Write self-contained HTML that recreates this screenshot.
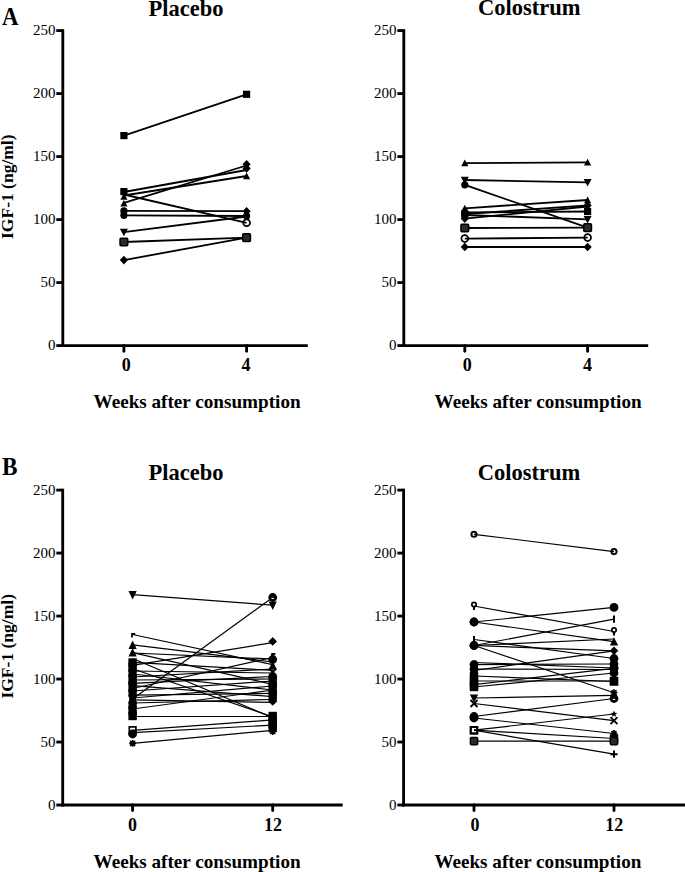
<!DOCTYPE html>
<html><head><meta charset="utf-8"><style>
html,body{margin:0;padding:0;background:#fff;}
body{width:685px;height:872px;overflow:hidden;}
svg{display:block;}
text{font-family:"Liberation Serif", serif;fill:#000;}
.yl{font-size:15px;}
.xl{font-size:18px;font-weight:bold;}
.title{font-size:22.5px;font-weight:bold;}
.wk{font-size:19.15px;font-weight:bold;}
.yt{font-size:17.5px;font-weight:bold;}
.big{font-size:24px;font-weight:bold;}
</style></head><body>
<svg width="685" height="872" viewBox="0 0 685 872">
<rect width="685" height="872" fill="#fff"/>

<text x="2" y="24.6" class="big" transform="translate(2,24.6) scale(0.95,1.07) translate(-2,-24.6)">A</text>
<text x="2" y="474.8" class="big" transform="translate(2,474.8) scale(0.97,1.07) translate(-2,-474.8)">B</text>
<text x="186" y="15.6" text-anchor="middle" class="title">Placebo</text>
<text x="529.3" y="15.4" text-anchor="middle" class="title">Colostrum</text>
<text x="186.1" y="480.2" text-anchor="middle" class="title">Placebo</text>
<text x="529.1" y="480.3" text-anchor="middle" class="title">Colostrum</text>
<text x="93.6" y="408.3" class="wk">Weeks after consumption</text>
<text x="434.6" y="408.4" class="wk">Weeks after consumption</text>
<text x="93.6" y="867.7" class="wk">Weeks after consumption</text>
<text x="434.4" y="867.7" class="wk">Weeks after consumption</text>
<text transform="translate(13.4,186.7) rotate(-90)" text-anchor="middle" class="yt">IGF-1 (ng/ml)</text>
<text transform="translate(13.4,646.3) rotate(-90)" text-anchor="middle" class="yt">IGF-1 (ng/ml)</text>

<path d="M62.80,29.18 L62.80,347.03" stroke="#000" stroke-width="2.85" fill="none"/>
<path d="M56.30,345.60 L62.80,345.60" stroke="#000" stroke-width="2.85"/>
<text x="55.50" y="350.20" text-anchor="end" class="yl">0</text>
<path d="M56.30,282.60 L62.80,282.60" stroke="#000" stroke-width="2.85"/>
<text x="55.50" y="287.20" text-anchor="end" class="yl">50</text>
<path d="M56.30,219.60 L62.80,219.60" stroke="#000" stroke-width="2.85"/>
<text x="55.50" y="224.20" text-anchor="end" class="yl">100</text>
<path d="M56.30,156.60 L62.80,156.60" stroke="#000" stroke-width="2.85"/>
<text x="55.50" y="161.20" text-anchor="end" class="yl">150</text>
<path d="M56.30,93.60 L62.80,93.60" stroke="#000" stroke-width="2.85"/>
<text x="55.50" y="98.20" text-anchor="end" class="yl">200</text>
<path d="M56.30,30.60 L62.80,30.60" stroke="#000" stroke-width="2.85"/>
<text x="55.50" y="35.20" text-anchor="end" class="yl">250</text>
<path d="M61.38,345.60 L307.80,345.60" stroke="#000" stroke-width="2.85"/>
<path d="M123.90,345.60 L123.90,351.20" stroke="#000" stroke-width="2.85" stroke-linecap="round"/>
<text x="126.30" y="371.00" text-anchor="middle" class="xl">0</text>
<path d="M246.60,345.60 L246.60,351.20" stroke="#000" stroke-width="2.85" stroke-linecap="round"/>
<text x="246.10" y="371.00" text-anchor="middle" class="xl">4</text>
<path d="M123.90,135.60 L246.60,94.30" stroke="#000" stroke-width="1.8" fill="none"/>
<path d="M123.90,192.00 L246.60,170.00" stroke="#000" stroke-width="1.8" fill="none"/>
<path d="M123.90,195.50 L246.60,176.00" stroke="#000" stroke-width="1.8" fill="none"/>
<path d="M123.90,202.80 L246.60,165.50" stroke="#000" stroke-width="1.8" fill="none"/>
<path d="M123.90,194.50 L246.60,222.80" stroke="#000" stroke-width="1.8" fill="none"/>
<path d="M123.90,210.90 L246.60,211.20" stroke="#000" stroke-width="1.8" fill="none"/>
<path d="M123.90,215.30 L246.60,216.00" stroke="#000" stroke-width="1.8" fill="none"/>
<path d="M123.90,232.10 L246.60,216.50" stroke="#000" stroke-width="1.8" fill="none"/>
<path d="M123.90,242.00 L246.60,237.70" stroke="#000" stroke-width="1.8" fill="none"/>
<path d="M123.90,260.10 L246.60,237.70" stroke="#000" stroke-width="1.8" fill="none"/>
<rect x="120.30" y="132.00" width="7.20" height="7.20" fill="#000"/>
<rect x="243.00" y="90.70" width="7.20" height="7.20" fill="#000"/>



<path d="M246.60,172.50 L250.20,179.20 L243.00,179.20 Z" fill="#000"/>



<circle cx="246.60" cy="222.80" r="3.40" fill="none" stroke="#000" stroke-width="1.75"/>
<circle cx="123.90" cy="210.90" r="3.60" fill="#000"/>
<path d="M246.60,206.90 L250.70,211.20 L246.60,215.50 L242.50,211.20 Z" fill="#000"/>
<circle cx="123.90" cy="215.30" r="3.60" fill="#000"/>
<circle cx="246.60" cy="216.00" r="3.60" fill="#000"/>
<path d="M123.90,236.30 L127.90,228.80 L119.90,228.80 Z" fill="#000"/>

<rect x="120.05" y="238.15" width="7.70" height="7.70" fill="#2a2a2a" stroke="#000" stroke-width="1.50" rx="1"/>
<rect x="242.75" y="233.85" width="7.70" height="7.70" fill="#2a2a2a" stroke="#000" stroke-width="1.50" rx="1"/>
<path d="M123.90,255.80 L128.00,260.10 L123.90,264.40 L119.80,260.10 Z" fill="#000"/>

<path d="M123.90,193.10 L127.50,199.80 L120.30,199.80 Z" fill="#000"/>
<path d="M123.90,199.90 L127.50,206.60 L120.30,206.60 Z" fill="#000"/>
<rect x="120.30" y="188.00" width="7.20" height="7.20" fill="#000"/>
<path d="M246.60,160.00 L250.70,164.30 L246.60,168.60 L242.50,164.30 Z" fill="#000"/>
<path d="M246.60,164.10 L250.70,168.40 L246.60,172.70 L242.50,168.40 Z" fill="#000"/>
<path d="M403.80,29.18 L403.80,347.03" stroke="#000" stroke-width="2.85" fill="none"/>
<path d="M397.40,345.60 L403.80,345.60" stroke="#000" stroke-width="2.85"/>
<text x="396.40" y="350.20" text-anchor="end" class="yl">0</text>
<path d="M397.40,282.60 L403.80,282.60" stroke="#000" stroke-width="2.85"/>
<text x="396.40" y="287.20" text-anchor="end" class="yl">50</text>
<path d="M397.40,219.60 L403.80,219.60" stroke="#000" stroke-width="2.85"/>
<text x="396.40" y="224.20" text-anchor="end" class="yl">100</text>
<path d="M397.40,156.60 L403.80,156.60" stroke="#000" stroke-width="2.85"/>
<text x="396.40" y="161.20" text-anchor="end" class="yl">150</text>
<path d="M397.40,93.60 L403.80,93.60" stroke="#000" stroke-width="2.85"/>
<text x="396.40" y="98.20" text-anchor="end" class="yl">200</text>
<path d="M397.40,30.60 L403.80,30.60" stroke="#000" stroke-width="2.85"/>
<text x="396.40" y="35.20" text-anchor="end" class="yl">250</text>
<path d="M402.38,345.60 L648.20,345.60" stroke="#000" stroke-width="2.85"/>
<path d="M464.80,345.60 L464.80,351.20" stroke="#000" stroke-width="2.85" stroke-linecap="round"/>
<text x="467.30" y="371.00" text-anchor="middle" class="xl">0</text>
<path d="M587.60,345.60 L587.60,351.20" stroke="#000" stroke-width="2.85" stroke-linecap="round"/>
<text x="587.60" y="371.00" text-anchor="middle" class="xl">4</text>
<path d="M464.80,163.10 L587.60,162.30" stroke="#000" stroke-width="1.8" fill="none"/>
<path d="M464.80,180.00 L587.60,182.40" stroke="#000" stroke-width="1.8" fill="none"/>
<path d="M464.80,184.80 L587.60,227.70" stroke="#000" stroke-width="1.8" fill="none"/>
<path d="M464.80,212.50 L587.60,211.50" stroke="#000" stroke-width="1.8" fill="none"/>
<path d="M464.80,214.00 L587.60,205.40" stroke="#000" stroke-width="1.8" fill="none"/>
<path d="M464.80,218.60 L587.60,206.50" stroke="#000" stroke-width="1.8" fill="none"/>
<path d="M464.80,215.00 L587.60,219.30" stroke="#000" stroke-width="1.8" fill="none"/>
<path d="M464.80,208.30 L587.60,200.00" stroke="#000" stroke-width="1.8" fill="none"/>
<path d="M464.80,228.00 L587.60,227.70" stroke="#000" stroke-width="1.8" fill="none"/>
<path d="M464.80,238.60 L587.60,237.60" stroke="#000" stroke-width="1.8" fill="none"/>
<path d="M464.80,247.00 L587.60,247.00" stroke="#000" stroke-width="1.8" fill="none"/>
<path d="M464.80,159.60 L468.40,166.30 L461.20,166.30 Z" fill="#000"/>
<path d="M587.60,158.80 L591.20,165.50 L584.00,165.50 Z" fill="#000"/>
<path d="M464.80,184.20 L468.80,176.70 L460.80,176.70 Z" fill="#000"/>
<path d="M587.60,186.60 L591.60,179.10 L583.60,179.10 Z" fill="#000"/>
<circle cx="464.80" cy="184.80" r="3.60" fill="#000"/>

<circle cx="464.80" cy="212.50" r="3.60" fill="#000"/>
<rect x="584.00" y="207.90" width="7.20" height="7.20" fill="#000"/>
<rect x="461.20" y="210.40" width="7.20" height="7.20" fill="#000"/>
<path d="M587.60,201.10 L591.70,205.40 L587.60,209.70 L583.50,205.40 Z" fill="#000"/>
<path d="M464.80,214.30 L468.90,218.60 L464.80,222.90 L460.70,218.60 Z" fill="#000"/>

<circle cx="464.80" cy="215.00" r="3.60" fill="#000"/>
<path d="M587.60,223.50 L591.60,216.00 L583.60,216.00 Z" fill="#000"/>
<path d="M464.80,204.80 L468.40,211.50 L461.20,211.50 Z" fill="#000"/>
<path d="M587.60,196.50 L591.20,203.20 L584.00,203.20 Z" fill="#000"/>
<rect x="460.95" y="224.15" width="7.70" height="7.70" fill="#2a2a2a" stroke="#000" stroke-width="1.50" rx="1"/>
<rect x="583.75" y="223.85" width="7.70" height="7.70" fill="#2a2a2a" stroke="#000" stroke-width="1.50" rx="1"/>
<circle cx="464.80" cy="238.60" r="3.40" fill="none" stroke="#000" stroke-width="1.75"/>
<circle cx="587.60" cy="237.60" r="3.40" fill="none" stroke="#000" stroke-width="1.75"/>
<path d="M464.80,242.70 L468.90,247.00 L464.80,251.30 L460.70,247.00 Z" fill="#000"/>
<path d="M587.60,242.70 L591.70,247.00 L587.60,251.30 L583.50,247.00 Z" fill="#000"/>
<path d="M62.70,488.68 L62.70,806.42" stroke="#000" stroke-width="2.85" fill="none"/>
<path d="M56.30,805.00 L62.70,805.00" stroke="#000" stroke-width="2.85"/>
<text x="55.50" y="809.60" text-anchor="end" class="yl">0</text>
<path d="M56.30,742.02 L62.70,742.02" stroke="#000" stroke-width="2.85"/>
<text x="55.50" y="746.62" text-anchor="end" class="yl">50</text>
<path d="M56.30,679.04 L62.70,679.04" stroke="#000" stroke-width="2.85"/>
<text x="55.50" y="683.64" text-anchor="end" class="yl">100</text>
<path d="M56.30,616.06 L62.70,616.06" stroke="#000" stroke-width="2.85"/>
<text x="55.50" y="620.66" text-anchor="end" class="yl">150</text>
<path d="M56.30,553.08 L62.70,553.08" stroke="#000" stroke-width="2.85"/>
<text x="55.50" y="557.68" text-anchor="end" class="yl">200</text>
<path d="M56.30,490.10 L62.70,490.10" stroke="#000" stroke-width="2.85"/>
<text x="55.50" y="494.70" text-anchor="end" class="yl">250</text>
<path d="M61.28,805.00 L342.70,805.00" stroke="#000" stroke-width="2.85"/>
<path d="M132.60,805.00 L132.60,810.60" stroke="#000" stroke-width="2.85" stroke-linecap="round"/>
<text x="132.60" y="830.60" text-anchor="middle" class="xl">0</text>
<path d="M272.70,805.00 L272.70,810.60" stroke="#000" stroke-width="2.85" stroke-linecap="round"/>
<text x="272.90" y="830.60" text-anchor="middle" class="xl">12</text>
<path d="M132.60,594.60 L272.70,605.20" stroke="#000" stroke-width="1.2" fill="none"/>
<path d="M132.60,699.00 L272.70,597.50" stroke="#000" stroke-width="1.2" fill="none"/>
<path d="M132.60,634.50 L272.70,664.60" stroke="#000" stroke-width="1.2" fill="none"/>
<path d="M132.60,644.90 L272.70,662.00" stroke="#000" stroke-width="1.2" fill="none"/>
<path d="M132.60,653.00 L272.70,659.00" stroke="#000" stroke-width="1.2" fill="none"/>
<path d="M132.60,652.60 L272.70,684.30" stroke="#000" stroke-width="1.2" fill="none"/>
<path d="M132.60,665.30 L272.70,642.60" stroke="#000" stroke-width="1.2" fill="none"/>
<path d="M132.60,658.50 L272.70,717.70" stroke="#000" stroke-width="1.2" fill="none"/>
<path d="M132.60,668.70 L272.70,716.90" stroke="#000" stroke-width="1.2" fill="none"/>
<path d="M132.60,662.40 L272.70,670.30" stroke="#000" stroke-width="1.2" fill="none"/>
<path d="M132.60,688.50 L272.70,657.50" stroke="#000" stroke-width="1.2" fill="none"/>
<path d="M132.60,709.00 L272.70,690.00" stroke="#000" stroke-width="1.2" fill="none"/>
<path d="M132.60,716.50 L272.70,716.50" stroke="#000" stroke-width="1.2" fill="none"/>
<path d="M132.60,730.40 L272.70,719.90" stroke="#000" stroke-width="1.2" fill="none"/>
<path d="M132.60,732.60 L272.70,725.10" stroke="#000" stroke-width="1.2" fill="none"/>
<path d="M132.60,743.40 L272.70,730.40" stroke="#000" stroke-width="1.2" fill="none"/>
<path d="M132.60,674.00 L272.70,690.00" stroke="#000" stroke-width="1.2" fill="none"/>
<path d="M132.60,677.00 L272.70,669.00" stroke="#000" stroke-width="1.2" fill="none"/>
<path d="M132.60,680.00 L272.70,679.00" stroke="#000" stroke-width="1.2" fill="none"/>
<path d="M132.60,683.40 L272.70,676.50" stroke="#000" stroke-width="1.2" fill="none"/>
<path d="M132.60,685.70 L272.70,696.60" stroke="#000" stroke-width="1.2" fill="none"/>
<path d="M132.60,691.00 L272.70,681.00" stroke="#000" stroke-width="1.2" fill="none"/>
<path d="M132.60,695.10 L272.70,693.40" stroke="#000" stroke-width="1.2" fill="none"/>
<path d="M132.60,698.00 L272.70,686.00" stroke="#000" stroke-width="1.2" fill="none"/>
<path d="M132.60,699.80 L272.70,702.40" stroke="#000" stroke-width="1.2" fill="none"/>
<path d="M132.60,671.00 L272.70,673.00" stroke="#000" stroke-width="1.2" fill="none"/>
<path d="M132.60,703.00 L272.70,699.50" stroke="#000" stroke-width="1.2" fill="none"/>
<path d="M132.60,599.40 L136.70,591.00 L128.50,591.00 Z" fill="#000"/>
<path d="M132.00,637.40 L132.00,634.00 L135.20,634.00" stroke="#000" stroke-width="1.8" fill="none"/>
<path d="M132.60,640.60 L136.70,649.00 L128.50,649.00 Z" fill="#000"/>
<path d="M132.60,648.10 L136.70,656.50 L128.50,656.50 Z" fill="#000"/>
<rect x="128.40" y="658.30" width="8.40" height="8.40" fill="#000"/>
<rect x="128.40" y="662.80" width="8.40" height="8.40" fill="#000"/>
<circle cx="132.60" cy="671.00" r="4.40" fill="#000"/>
<circle cx="132.60" cy="675.00" r="4.40" fill="#000"/>
<rect x="128.40" y="674.80" width="8.40" height="8.40" fill="#000"/>
<circle cx="132.60" cy="683.00" r="4.40" fill="#000"/>
<rect x="128.40" y="682.80" width="8.40" height="8.40" fill="#000"/>
<circle cx="132.60" cy="691.00" r="4.40" fill="#000"/>
<circle cx="132.60" cy="695.00" r="4.40" fill="#000"/>
<circle cx="132.60" cy="699.00" r="2.60" fill="none" stroke="#000" stroke-width="1.90"/>
<circle cx="132.60" cy="703.00" r="4.40" fill="#000"/>
<circle cx="132.60" cy="707.00" r="4.40" fill="#000"/>
<rect x="128.40" y="706.80" width="8.40" height="8.40" fill="#000"/>
<rect x="128.40" y="711.80" width="8.40" height="8.40" fill="#000"/>
<rect x="129.30" y="726.90" width="6.60" height="6.60" fill="none" stroke="#000" stroke-width="1.70"/>
<circle cx="132.60" cy="734.00" r="4.40" fill="#000"/>
<path d="M129.20,743.40 L136.00,743.40 M132.60,740.00 L132.60,746.80 M130.15,740.95 L135.05,745.85 M135.05,740.95 L130.15,745.85" stroke="#000" stroke-width="1.70"/>
<circle cx="272.70" cy="597.50" r="4.40" fill="#000"/><ellipse cx="272.70" cy="598.40" rx="1.3" ry="0.7" fill="#fff"/>
<path d="M272.70,610.00 L276.80,601.60 L268.60,601.60 Z" fill="#000"/>
<path d="M272.70,637.10 L277.00,641.40 L272.70,645.70 L268.40,641.40 Z" fill="#000"/>
<path d="M272.10,657.40 L272.10,654.00 L275.30,654.00" stroke="#000" stroke-width="1.8" fill="none"/>
<circle cx="272.70" cy="659.50" r="4.40" fill="#000"/>
<path d="M272.70,661.10 L276.80,669.50 L268.60,669.50 Z" fill="#000"/>
<path d="M269.20,668.50 L276.20,675.50 M276.20,668.50 L269.20,675.50" stroke="#000" stroke-width="1.90"/>
<circle cx="272.70" cy="677.00" r="4.40" fill="#000"/>
<rect x="268.50" y="676.80" width="8.40" height="8.40" fill="#000"/>
<circle cx="272.70" cy="685.00" r="4.40" fill="#000"/>
<rect x="268.50" y="684.80" width="8.40" height="8.40" fill="#000"/>
<circle cx="272.70" cy="693.00" r="4.40" fill="#000"/>
<rect x="268.50" y="692.80" width="8.40" height="8.40" fill="#000"/>
<path d="M272.70,697.20 L277.00,701.50 L272.70,705.80 L268.40,701.50 Z" fill="#000"/>
<rect x="268.50" y="711.80" width="8.40" height="8.40" fill="#000"/>
<rect x="268.50" y="715.80" width="8.40" height="8.40" fill="#000"/>
<rect x="268.50" y="719.80" width="8.40" height="8.40" fill="#000"/>
<rect x="268.50" y="723.80" width="8.40" height="8.40" fill="#000"/>
<path d="M269.30,731.50 L276.10,731.50 M272.70,728.10 L272.70,734.90 M270.25,729.05 L275.15,733.95 M275.15,729.05 L270.25,733.95" stroke="#000" stroke-width="1.70"/>
<path d="M403.60,488.68 L403.60,806.42" stroke="#000" stroke-width="2.85" fill="none"/>
<path d="M397.40,805.00 L403.60,805.00" stroke="#000" stroke-width="2.85"/>
<text x="396.40" y="809.60" text-anchor="end" class="yl">0</text>
<path d="M397.40,742.02 L403.60,742.02" stroke="#000" stroke-width="2.85"/>
<text x="396.40" y="746.62" text-anchor="end" class="yl">50</text>
<path d="M397.40,679.04 L403.60,679.04" stroke="#000" stroke-width="2.85"/>
<text x="396.40" y="683.64" text-anchor="end" class="yl">100</text>
<path d="M397.40,616.06 L403.60,616.06" stroke="#000" stroke-width="2.85"/>
<text x="396.40" y="620.66" text-anchor="end" class="yl">150</text>
<path d="M397.40,553.08 L403.60,553.08" stroke="#000" stroke-width="2.85"/>
<text x="396.40" y="557.68" text-anchor="end" class="yl">200</text>
<path d="M397.40,490.10 L403.60,490.10" stroke="#000" stroke-width="2.85"/>
<text x="396.40" y="494.70" text-anchor="end" class="yl">250</text>
<path d="M402.18,805.00 L686.00,805.00" stroke="#000" stroke-width="2.85"/>
<path d="M474.00,805.00 L474.00,810.60" stroke="#000" stroke-width="2.85" stroke-linecap="round"/>
<text x="475.00" y="830.60" text-anchor="middle" class="xl">0</text>
<path d="M614.00,805.00 L614.00,810.60" stroke="#000" stroke-width="2.85" stroke-linecap="round"/>
<text x="614.30" y="830.60" text-anchor="middle" class="xl">12</text>
<path d="M474.00,534.30 L614.00,551.60" stroke="#000" stroke-width="1.2" fill="none"/>
<path d="M474.00,606.00 L614.00,631.50" stroke="#000" stroke-width="1.2" fill="none"/>
<path d="M474.00,622.00 L614.00,607.40" stroke="#000" stroke-width="1.2" fill="none"/>
<path d="M474.00,622.00 L614.00,641.60" stroke="#000" stroke-width="1.2" fill="none"/>
<path d="M474.00,639.50 L614.00,658.50" stroke="#000" stroke-width="1.2" fill="none"/>
<path d="M474.00,645.50 L614.00,619.20" stroke="#000" stroke-width="1.2" fill="none"/>
<path d="M474.00,645.50 L614.00,639.00" stroke="#000" stroke-width="1.2" fill="none"/>
<path d="M474.00,645.50 L614.00,650.80" stroke="#000" stroke-width="1.2" fill="none"/>
<path d="M474.00,645.50 L614.00,692.70" stroke="#000" stroke-width="1.2" fill="none"/>
<path d="M474.00,662.50 L614.00,668.00" stroke="#000" stroke-width="1.2" fill="none"/>
<path d="M474.00,664.60 L614.00,664.00" stroke="#000" stroke-width="1.2" fill="none"/>
<path d="M474.00,670.50 L614.00,650.80" stroke="#000" stroke-width="1.2" fill="none"/>
<path d="M474.00,669.00 L614.00,669.50" stroke="#000" stroke-width="1.2" fill="none"/>
<path d="M474.00,676.00 L614.00,681.50" stroke="#000" stroke-width="1.2" fill="none"/>
<path d="M474.00,681.00 L614.00,681.00" stroke="#000" stroke-width="1.2" fill="none"/>
<path d="M474.00,684.70 L614.00,668.30" stroke="#000" stroke-width="1.2" fill="none"/>
<path d="M474.00,687.00 L614.00,673.00" stroke="#000" stroke-width="1.2" fill="none"/>
<path d="M474.00,698.00 L614.00,695.30" stroke="#000" stroke-width="1.2" fill="none"/>
<path d="M474.00,703.50 L614.00,720.70" stroke="#000" stroke-width="1.2" fill="none"/>
<path d="M474.00,716.50 L614.00,698.50" stroke="#000" stroke-width="1.2" fill="none"/>
<path d="M474.00,718.00 L614.00,733.50" stroke="#000" stroke-width="1.2" fill="none"/>
<path d="M474.00,730.20 L614.00,714.00" stroke="#000" stroke-width="1.2" fill="none"/>
<path d="M474.00,730.20 L614.00,738.50" stroke="#000" stroke-width="1.2" fill="none"/>
<path d="M474.00,730.20 L614.00,754.20" stroke="#000" stroke-width="1.2" fill="none"/>
<path d="M474.00,741.20 L614.00,741.20" stroke="#000" stroke-width="1.2" fill="none"/>
<circle cx="474.00" cy="534.30" r="2.60" fill="none" stroke="#000" stroke-width="1.90"/>
<circle cx="614.00" cy="551.60" r="2.60" fill="none" stroke="#000" stroke-width="1.90"/>
<circle cx="474.00" cy="604.60" r="2.2" fill="none" stroke="#000" stroke-width="1.7"/><path d="M474.00,607.00 L474.00,610.00" stroke="#000" stroke-width="2.0"/>
<circle cx="614.00" cy="630.10" r="2.2" fill="none" stroke="#000" stroke-width="1.7"/><path d="M614.00,632.50 L614.00,635.50" stroke="#000" stroke-width="2.0"/>
<circle cx="474.00" cy="622.00" r="4.40" fill="#000"/>
<circle cx="614.00" cy="607.40" r="4.40" fill="#000"/>
<circle cx="474.00" cy="622.00" r="4.40" fill="#000"/>
<path d="M614.00,637.20 L618.10,645.60 L609.90,645.60 Z" fill="#000"/>
<path d="M474.00,635.90 L474.00,643.10" stroke="#000" stroke-width="2.0"/>
<circle cx="614.00" cy="658.50" r="4.40" fill="#000"/>
<circle cx="474.00" cy="645.50" r="4.40" fill="#000"/>
<path d="M614.00,615.60 L614.00,622.80" stroke="#000" stroke-width="2.0"/>
<path d="M474.00,641.20 L478.30,645.50 L474.00,649.80 L469.70,645.50 Z" fill="#000"/>

<circle cx="474.00" cy="645.50" r="4.40" fill="#000"/>
<path d="M614.00,646.50 L618.30,650.80 L614.00,655.10 L609.70,650.80 Z" fill="#000"/>
<path d="M474.00,641.20 L478.30,645.50 L474.00,649.80 L469.70,645.50 Z" fill="#000"/>
<path d="M610.60,692.70 L617.40,692.70 M614.00,689.30 L614.00,696.10 M611.55,690.25 L616.45,695.15 M616.45,690.25 L611.55,695.15" stroke="#000" stroke-width="1.70"/>
<path d="M473.40,664.90 L473.40,661.50 L476.60,661.50" stroke="#000" stroke-width="1.8" fill="none"/>
<circle cx="614.00" cy="668.00" r="4.40" fill="#000"/>
<circle cx="474.00" cy="664.60" r="4.40" fill="#000"/>
<circle cx="614.00" cy="664.00" r="4.40" fill="#000"/>
<circle cx="474.00" cy="670.50" r="2.60" fill="none" stroke="#000" stroke-width="1.90"/>

<circle cx="474.00" cy="669.00" r="4.40" fill="#000"/>
<circle cx="614.00" cy="669.50" r="2.60" fill="none" stroke="#000" stroke-width="1.90"/>
<rect x="469.80" y="671.80" width="8.40" height="8.40" fill="#000"/>
<rect x="609.80" y="677.30" width="8.40" height="8.40" fill="#000"/>
<rect x="469.80" y="676.80" width="8.40" height="8.40" fill="#000"/>
<rect x="609.80" y="676.80" width="8.40" height="8.40" fill="#000"/>
<rect x="469.80" y="680.50" width="8.40" height="8.40" fill="#000"/>
<circle cx="614.00" cy="668.30" r="4.40" fill="#000"/>
<rect x="469.80" y="682.80" width="8.40" height="8.40" fill="#000"/>
<circle cx="614.00" cy="673.00" r="4.40" fill="#000"/>
<path d="M474.00,702.80 L478.10,694.40 L469.90,694.40 Z" fill="#000"/>

<path d="M470.50,700.00 L477.50,707.00 M477.50,700.00 L470.50,707.00" stroke="#000" stroke-width="1.90"/>
<path d="M610.50,717.20 L617.50,724.20 M617.50,717.20 L610.50,724.20" stroke="#000" stroke-width="1.90"/>
<circle cx="474.00" cy="716.50" r="4.40" fill="#000"/>
<circle cx="614.00" cy="698.50" r="4.40" fill="#000"/><ellipse cx="614.00" cy="699.40" rx="1.3" ry="0.7" fill="#fff"/>
<circle cx="474.00" cy="718.00" r="4.40" fill="#000"/>
<path d="M610.60,733.50 L617.40,733.50 M614.00,730.10 L614.00,736.90 M611.55,731.05 L616.45,735.95 M616.45,731.05 L611.55,735.95" stroke="#000" stroke-width="1.70"/>
<rect x="470.70" y="726.90" width="6.60" height="6.60" fill="none" stroke="#000" stroke-width="1.70"/>
<polygon points="614.00,710.40 614.88,712.79 617.42,712.89 615.43,714.46 616.12,716.91 614.00,715.50 611.88,716.91 612.57,714.46 610.58,712.89 613.12,712.79" fill="#000"/>
<rect x="470.70" y="726.90" width="6.60" height="6.60" fill="none" stroke="#000" stroke-width="1.70"/>
<rect x="609.80" y="734.30" width="8.40" height="8.40" fill="#000"/>
<rect x="470.70" y="726.90" width="6.60" height="6.60" fill="none" stroke="#000" stroke-width="1.70"/>
<path d="M610.40,754.20 L617.60,754.20 M614.00,750.60 L614.00,757.80" stroke="#000" stroke-width="1.90"/>
<rect x="470.40" y="737.60" width="7.20" height="7.20" fill="#2a2a2a" stroke="#000" stroke-width="1.50" rx="1"/>
<rect x="610.40" y="737.60" width="7.20" height="7.20" fill="#2a2a2a" stroke="#000" stroke-width="1.50" rx="1"/>
</svg>
</body></html>
